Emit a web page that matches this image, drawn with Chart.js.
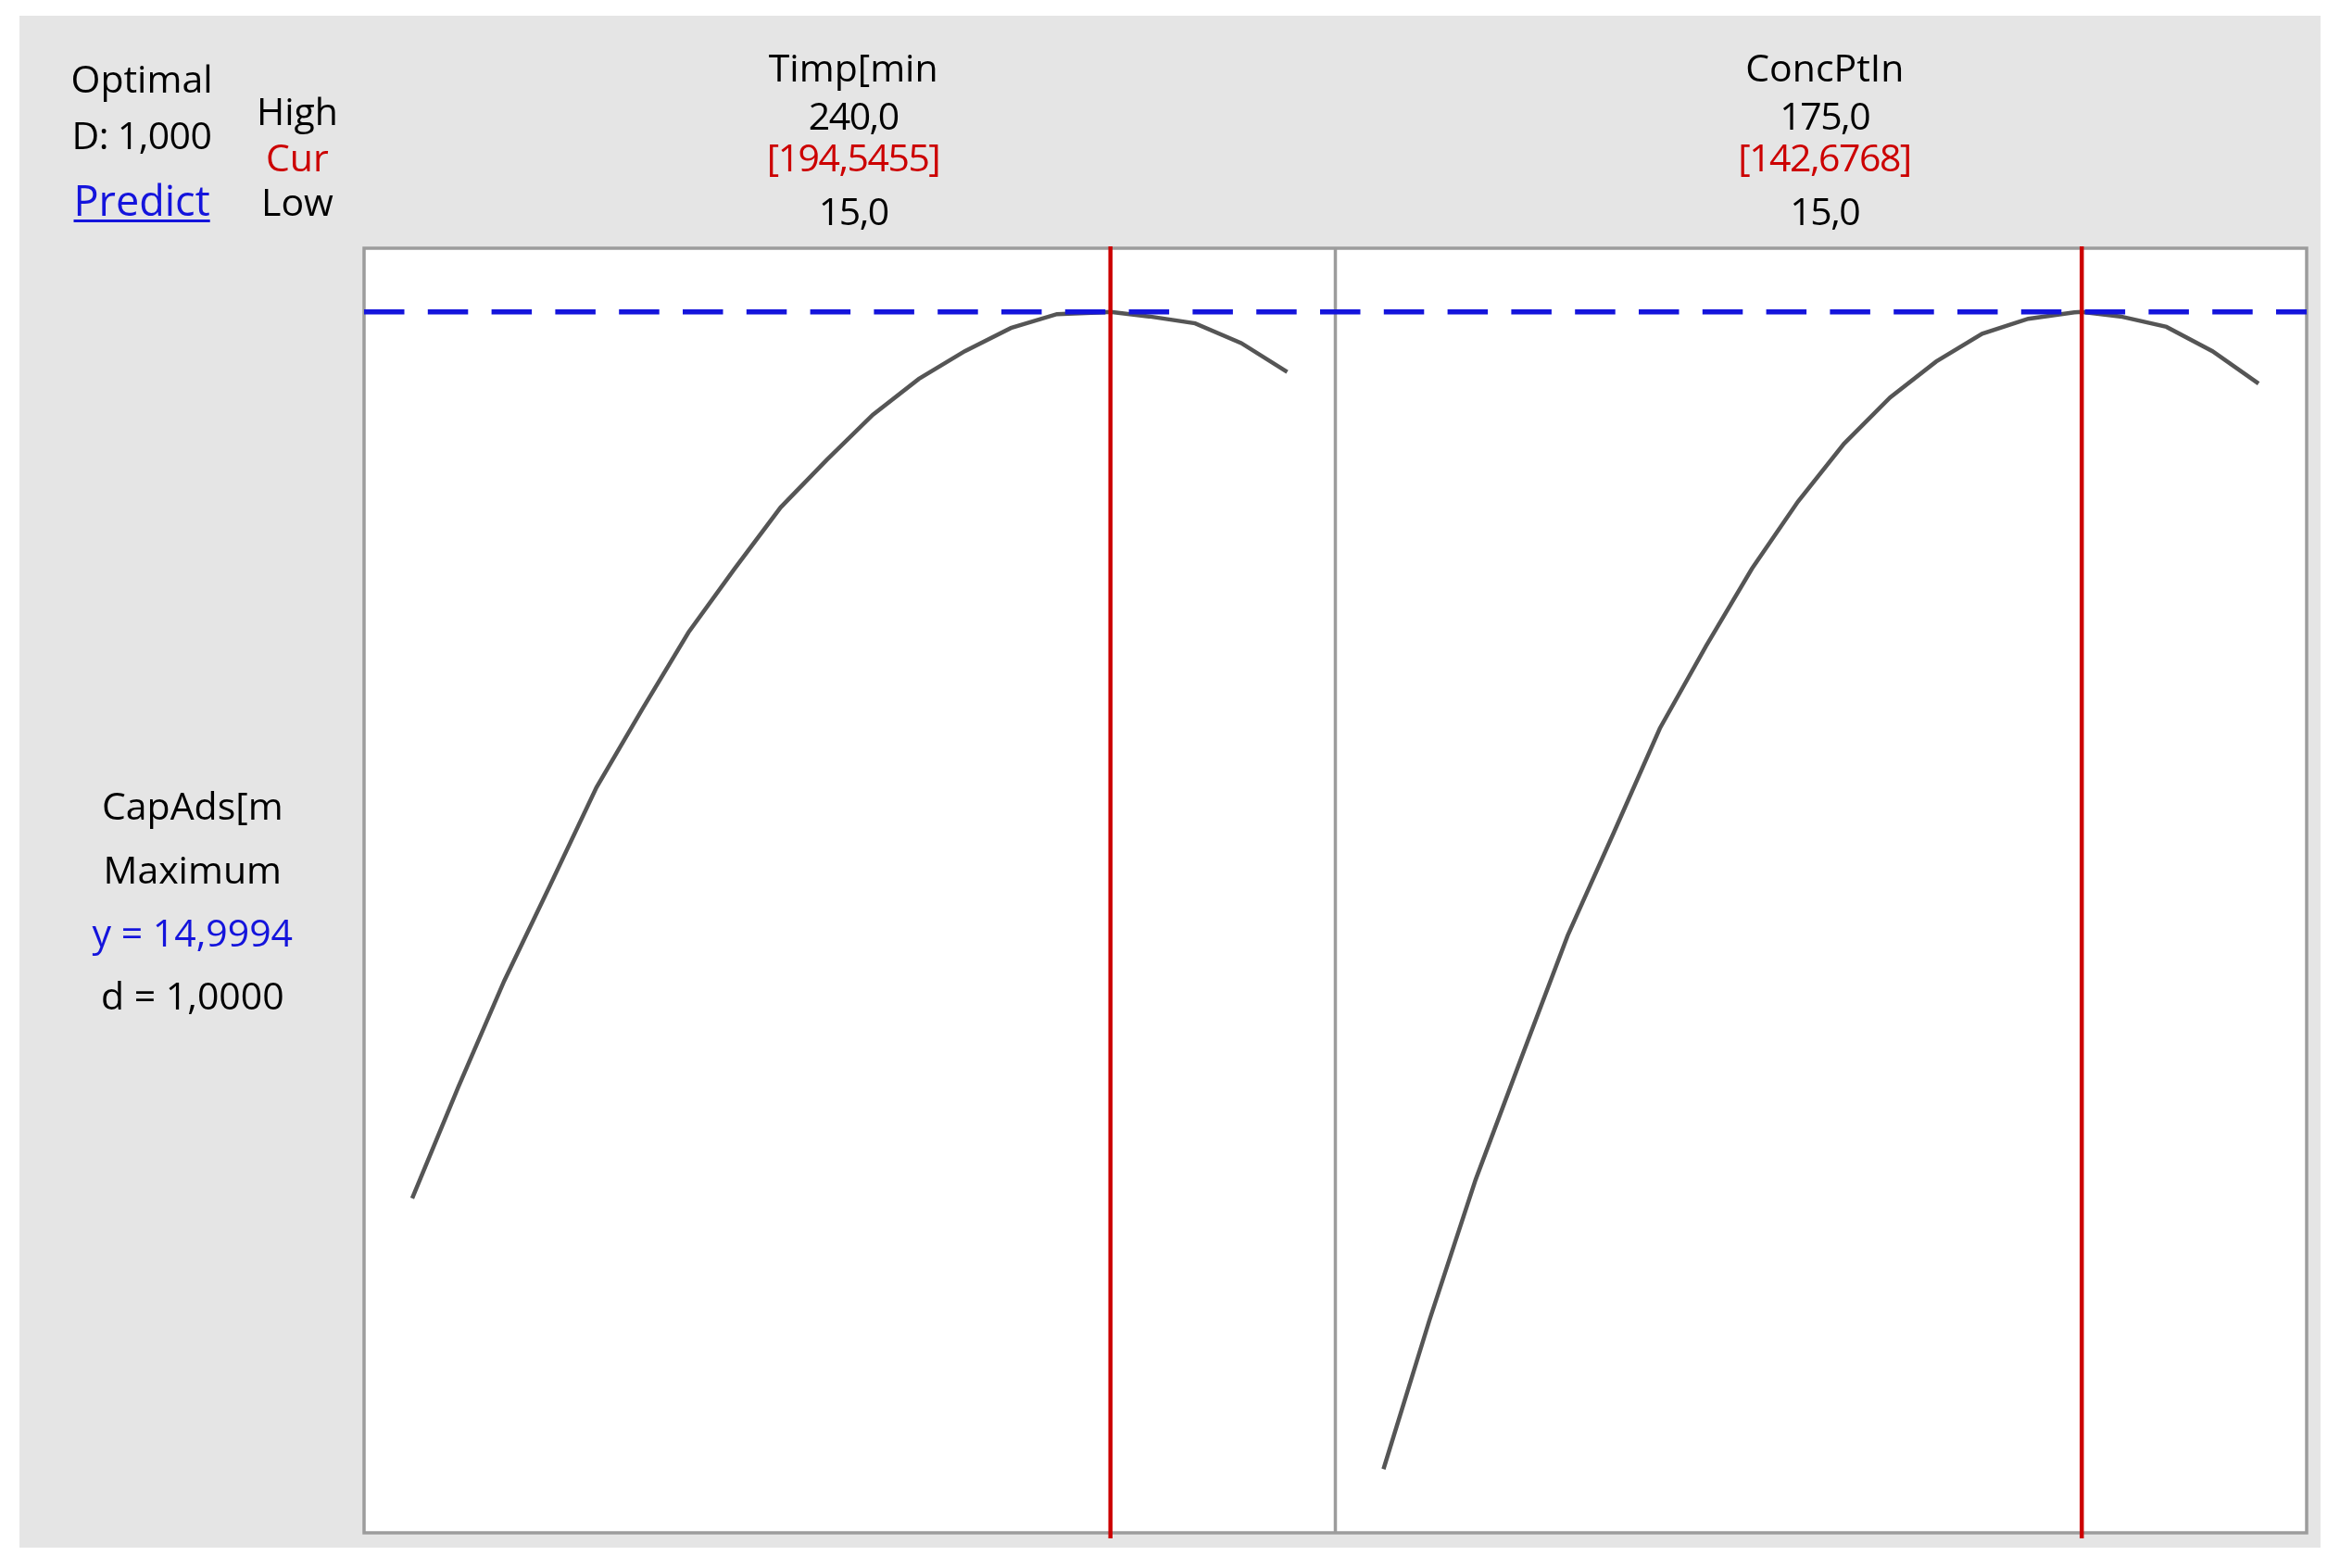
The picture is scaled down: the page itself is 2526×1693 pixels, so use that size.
<!DOCTYPE html>
<html>
<head>
<meta charset="utf-8">
<title>Optimization plot</title>
<script src="https://cdn.jsdelivr.net/npm/chart.js@4.4.1/dist/chart.umd.min.js"></script>
<style>
    html, body { margin: 0; padding: 0; background: #fff; }
    body { width: 2526px; height: 1693px; position: relative; overflow: hidden; font-family: "Open Sans", sans-serif; }
    .frame { position: absolute; left: 21px; top: 17px; width: 2484px; height: 1654px; background: #e5e5e5; }
    #plot { position: absolute; left: 0; top: 0; }
    .lbl { position: absolute; white-space: nowrap; font-size: 41px; line-height: 1; color: #000; }
    .red { color: #cc0000; }
    .blue { color: #1414dc; }
    .num { letter-spacing: -1.5px; }
    .tight { letter-spacing: -0.6px; }
    .link { font-size: 45px; }
    .link span:first-child { text-decoration: underline; text-decoration-thickness: 3px; text-underline-offset: 4px; }
</style>
</head>
<body>
<div class="frame"></div>
<canvas id="plot" width="2526" height="1693"></canvas>
<script>
// factor settings
const factorNames = ['Timp[min', 'ConcPtIn'];
const factorHigh = [240.0, 175.0];
const factorLow = [15.0, 15.0];
const factorCur = [194.5455, 142.6768];

// predicted response along each factor
const timpLevels = [15, 26.84, 38.68, 50.53, 62.37, 74.21, 86.05, 97.89, 109.74, 121.58, 133.42, 145.26, 157.1, 168.95, 180.79, 192.63, 194.5455, 204.47, 216.32, 228.16, 240];
const timpResp = [7.34, 8.30, 9.22, 10.05, 10.89, 11.57, 12.23, 12.78, 13.31, 13.72, 14.11, 14.42, 14.66, 14.86, 14.98, 14.996, 14.9994, 14.96, 14.90, 14.73, 14.48];

const concLevels = [15, 23.42, 31.84, 40.26, 48.68, 57.11, 65.53, 73.95, 82.37, 90.79, 99.21, 107.63, 116.05, 124.47, 132.89, 141.32, 142.6768, 149.74, 158.16, 166.58, 175];
const concResp = [5.00, 6.29, 7.50, 8.56, 9.61, 10.50, 11.40, 12.11, 12.78, 13.36, 13.86, 14.26, 14.57, 14.81, 14.94, 14.996, 14.9994, 14.96, 14.87, 14.66, 14.38];

// response
const respName = 'CapAds[m';
const respGoal = 'Maximum';
const respY = 14.9994;
const respD = 1.0;
const compositeD = 1.0;

const fmt = (v, n) => v.toFixed(n).replace('.', ',');

function padRange(lo, hi) {
    const p = (hi - lo) * 0.055;
    return [lo - p, hi + p];
}

const allResp = timpResp.concat(concResp);
const yRange = padRange(Math.min(...allResp), Math.max(...allResp));
const tRange = padRange(factorLow[0], factorHigh[0]);
const cRange = padRange(factorLow[1], factorHigh[1]);

function toPoints(xs, ys) {
    return xs.map((x, i) => ({ x: x, y: ys[i] }));
}

const panels = {
    id: 'panels',
    beforeDatasetsDraw(chart) {
        const { ctx, chartArea: a, scales } = chart;
        ctx.save();
        ctx.fillStyle = '#fff';
        ctx.fillRect(a.left, a.top, a.right - a.left, a.bottom - a.top);
        ctx.strokeStyle = '#9c9c9c';
        ctx.lineWidth = 3.5;
        ctx.strokeRect(a.left, a.top, a.right - a.left, a.bottom - a.top);
        let split = scales.xT.right;
        ctx.beginPath();
        ctx.moveTo(split, a.top);
        ctx.lineTo(split, a.bottom);
        ctx.stroke();
        ctx.restore();
    },
    afterDatasetsDraw(chart) {
        const { ctx, chartArea: a, scales } = chart;
        let yp = scales.y.getPixelForValue(respY);
        ctx.save();
        ctx.strokeStyle = '#1414dc';
        ctx.lineWidth = 5.5;
        ctx.setLineDash([43.5, 25.3]);
        ctx.beginPath();
        ctx.moveTo(a.left, yp);
        ctx.lineTo(a.right, yp);
        ctx.stroke();

        ctx.setLineDash([]);
        ctx.strokeStyle = '#cc0000';
        ctx.lineWidth = 4.5;
        ['xT', 'xC'].forEach((id, i) => {
            let xp = scales[id].getPixelForValue(factorCur[i]);
            ctx.beginPath();
            ctx.moveTo(xp, a.top - 2);
            ctx.lineTo(xp, a.bottom + 6);
            ctx.stroke();
        });
        ctx.restore();
    }
};

var ctx = document.getElementById('plot').getContext('2d');
var chart = new Chart(ctx, {
    type: 'line',
    data: {
        datasets: [{
            label: factorNames[0],
            data: toPoints(timpLevels, timpResp),
            xAxisID: 'xT',
            yAxisID: 'y',
            borderColor: '#555555',
            borderWidth: 4.5,
            pointRadius: 0,
            tension: 0
        }, {
            label: factorNames[1],
            data: toPoints(concLevels, concResp),
            xAxisID: 'xC',
            yAxisID: 'y',
            borderColor: '#555555',
            borderWidth: 4.5,
            pointRadius: 0,
            tension: 0
        }]
    },
    options: {
        responsive: false,
        animation: false,
        events: [],
        layout: { autoPadding: false, padding: { left: 393, top: 268, right: 36, bottom: 38 } },
        plugins: { legend: { display: false }, tooltip: { enabled: false }, title: { display: false } },
        scales: {
            xT: { type: 'linear', position: 'bottom', stack: 'factors', stackWeight: 1, min: tRange[0], max: tRange[1], display: false },
            xC: { type: 'linear', position: 'bottom', stack: 'factors', stackWeight: 1, min: cRange[0], max: cRange[1], display: false },
            y: { type: 'linear', position: 'left', min: yRange[0], max: yRange[1], display: false }
        }
    },
    plugins: [panels]
});

function addLabel(text, cx, base, cls) {
    let d = document.createElement('div');
    d.className = 'lbl' + (cls ? ' ' + cls : '');
    let t = document.createElement('span');
    t.textContent = text;
    let m = document.createElement('span');
    m.style.cssText = 'display:inline-block;width:0;height:0;';
    d.appendChild(t);
    d.appendChild(m);
    document.body.appendChild(d);
    d.style.left = (cx - t.offsetWidth / 2) + 'px';
    d.style.top = (base - m.offsetTop) + 'px';
}

// left header block
addLabel('Optimal', 153, 100);
addLabel('D: ' + fmt(compositeD, 3), 153, 161, 'tight');
addLabel('Predict', 153, 233, 'blue link');
addLabel('High', 321, 135);
addLabel('Cur', 321, 185, 'red');
addLabel('Low', 321, 233);

// factor headers over each panel
['xT', 'xC'].forEach((id, i) => {
    let s = chart.scales[id];
    let cx = (s.left + s.right) / 2 + 4;
    addLabel(factorNames[i], cx, 88);
    addLabel(fmt(factorHigh[i], 1), cx, 140, 'num');
    addLabel('[' + fmt(factorCur[i], 4) + ']', cx, 185, 'red num');
    addLabel(fmt(factorLow[i], 1), cx, 243, 'num');
});

// response block
addLabel(respName, 208, 885);
addLabel(respGoal, 208, 954);
addLabel('y = ' + fmt(respY, 4), 208, 1022, 'blue');
addLabel('d = ' + fmt(respD, 4), 208, 1090);
</script>
</body>
</html>
